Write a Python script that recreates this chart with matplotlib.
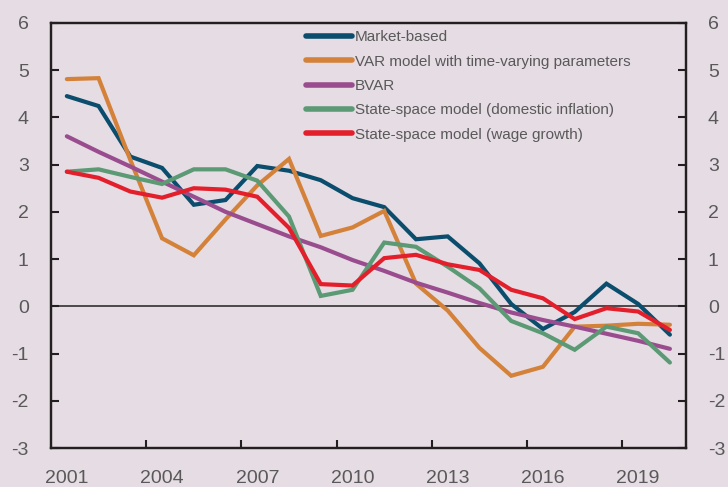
import numpy as np
import matplotlib
matplotlib.use("Agg")
import matplotlib.pyplot as plt

years = list(range(2001, 2021))

market_based = [4.45, 4.24, 3.17, 2.93, 2.15, 2.25, 2.97, 2.87, 2.67, 2.29,
                2.10, 1.42, 1.48, 0.91, 0.05, -0.48, -0.12, 0.48, 0.05, -0.60]
var_tvp = [4.81, 4.83, 3.10, 1.44, 1.08, 1.84, 2.56, 3.12, 1.49, 1.67,
           2.02, 0.48, -0.09, -0.88, -1.47, -1.28, -0.43, -0.41, -0.37, -0.39]
bvar = [3.60, 3.27, 2.96, 2.64, 2.32, 2.00, 1.74, 1.48, 1.25, 0.98,
        0.75, 0.50, 0.29, 0.07, -0.13, -0.29, -0.43, -0.58, -0.73, -0.90]
ss_domestic = [2.85, 2.90, 2.74, 2.59, 2.90, 2.90, 2.66, 1.90, 0.22, 0.35,
               1.35, 1.26, 0.84, 0.38, -0.31, -0.57, -0.92, -0.43, -0.57, -1.19]
ss_wage = [2.85, 2.72, 2.43, 2.30, 2.50, 2.47, 2.32, 1.66, 0.47, 0.44,
           1.02, 1.09, 0.89, 0.77, 0.35, 0.17, -0.27, -0.04, -0.11, -0.50]

labels = ["Market-based", "VAR model with time-varying parameters", "BVAR",
          "State-space model (domestic inflation)", "State-space model (wage growth)"]
colors = ["#0A4D6C", "#D4823A", "#9A4D8E", "#5B9A74", "#E41F2C"]

bg = "#E6DCE4"
txt = "#595959"
dark = "#231F20"
plt.rcParams['font.family'] = ['Liberation Sans', 'DejaVu Sans']
plt.rcParams['axes.unicode_minus'] = False

fig = plt.figure(figsize=(7.28, 4.87), dpi=100, facecolor=bg)
ax = fig.add_axes([0.070, 0.080, 0.872, 0.873], facecolor=bg)

x = np.arange(len(years))
for series, lab, col in zip([market_based, var_tvp, bvar, ss_domestic, ss_wage], labels, colors):
    ax.plot(x, series, color=col, lw=3, label=lab, solid_capstyle='round', solid_joinstyle='miter')

ax.axhline(0, color=dark, lw=1.1, zorder=1)

ax.set_xlim(-0.5, len(years) - 0.5)
ax.set_ylim(-3, 6)
ax.set_yticks(range(-3, 7))

# ticks sit between categories, labels every third year
ax.set_xticks(np.arange(2.5, 18, 3))
ax.set_xticklabels([])
ax.set_xticks(np.arange(0, 20, 3), minor=True)
ax.set_xticklabels([str(years[i]) for i in range(0, 20, 3)], minor=True)
ax.tick_params(axis='x', which='major', direction='in', length=6, width=1.5, color=dark)
ax.tick_params(axis='x', which='minor', length=0, pad=16, labelsize=14, labelcolor=txt)
ax.tick_params(axis='y', direction='in', length=6, width=1.5, color=dark,
               labelsize=14, labelcolor=txt, pad=16)

# same scale repeated on the right
ax2 = ax.twinx()
ax2.set_ylim(ax.get_ylim())
ax2.set_yticks(range(-3, 7))
ax2.tick_params(axis='y', direction='in', length=6, width=1.5, color=dark,
                labelsize=14, labelcolor=txt, pad=16)

for a in (ax, ax2):
    for s in a.spines.values():
        s.set_color(dark)
        s.set_linewidth(1.6)

leg = ax.legend(loc='upper left', bbox_to_anchor=(0.392, 0.997), frameon=False,
                fontsize=11, handlelength=3.0, handletextpad=0.2, labelspacing=0.68,
                borderaxespad=0)
for t in leg.get_texts():
    t.set_color(txt)
for h in leg.get_lines():
    h.set_linewidth(4)

fig.savefig("out.png", dpi=100, facecolor=bg)
